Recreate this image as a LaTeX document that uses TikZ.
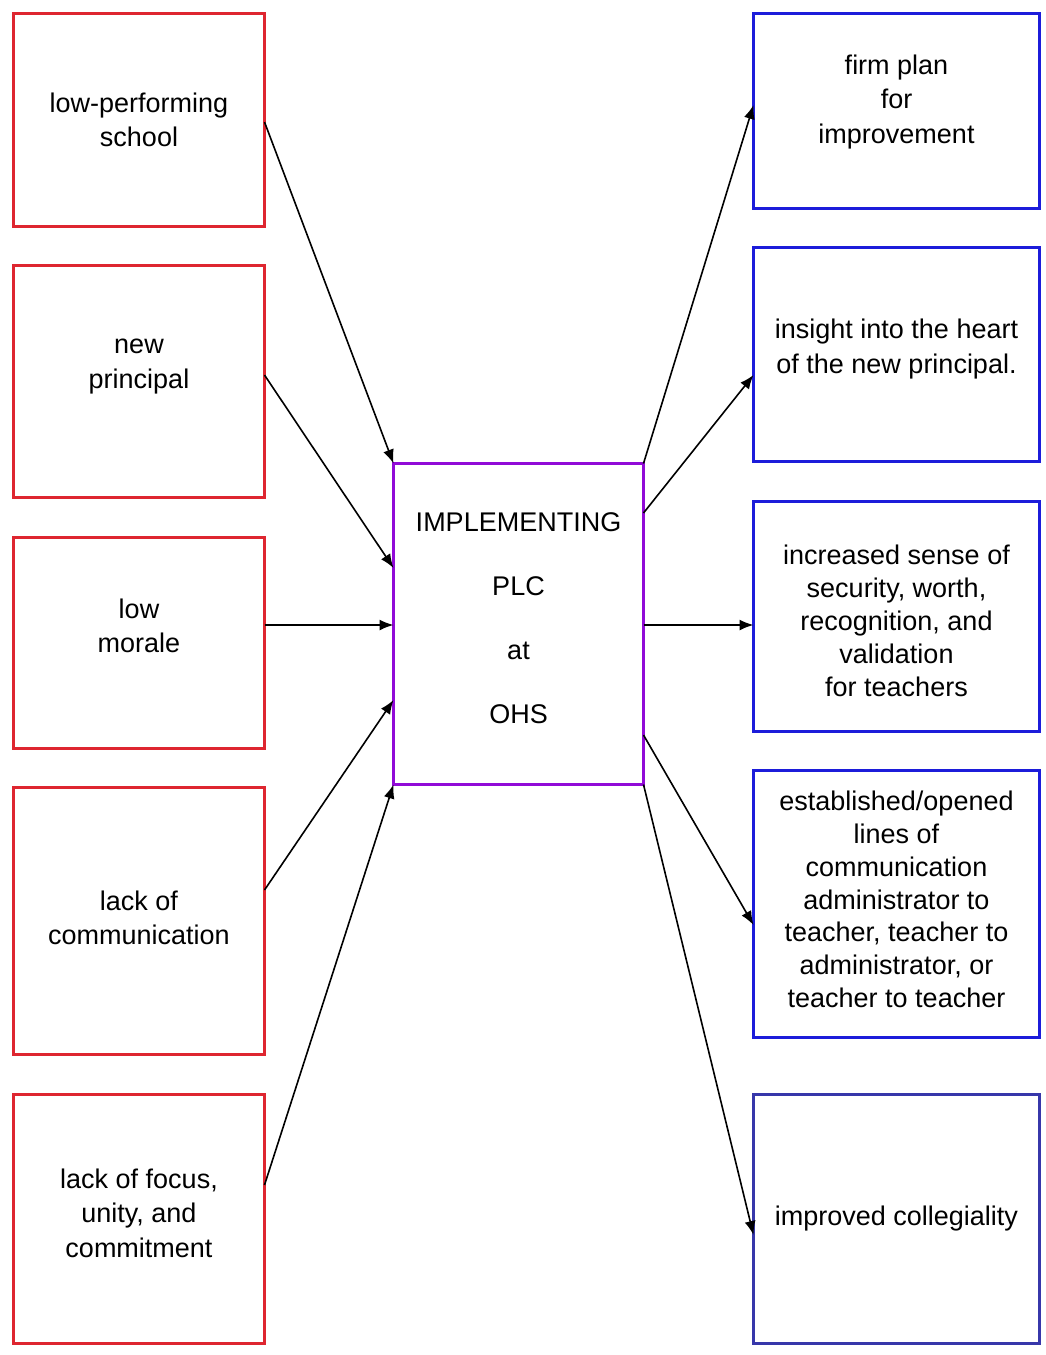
\documentclass[tikz,border=0pt]{standalone}
\usepackage{fontspec}
\setmainfont{Liberation Sans}
\usetikzlibrary{arrows.meta,calc}
\definecolor{boxred}{RGB}{222,38,48}
\definecolor{boxblue}{RGB}{28,28,218}
\definecolor{boxblue2}{RGB}{55,55,170}
\definecolor{boxpurple}{RGB}{145,10,215}
\begin{document}
\begin{tikzpicture}[x=1pt,y=-1pt,
  box/.style={draw, line width=3pt, rectangle, inner sep=0pt, outer sep=0pt, fill=white},
  lbox/.style={box, draw=boxred, minimum width=251pt},
  rbox/.style={box, draw=boxblue, minimum width=286pt},
  cbox/.style={box, draw=boxpurple, line width=3.8pt, minimum width=250pt, minimum height=321pt},
  txt/.style={align=center, inner sep=0pt, font=\fontsize{27}{34.5}\selectfont},
  ctxt/.style={align=center, inner sep=0pt, font=\fontsize{27}{64}\selectfont},
  arr/.style={-{Latex[length=14pt,width=11pt]}, line width=1.6pt, black}]
\useasboundingbox[fill=white] (0,0) rectangle (1045,1355);

% left boxes
\node[lbox, minimum height=213pt] (L1) at (139,120) {};
\node[lbox, minimum height=232pt] (L2) at (139,381.5) {};
\node[lbox, minimum height=211pt] (L3) at (139,643) {};
\node[lbox, minimum height=267pt] (L4) at (139,921) {};
\node[lbox, minimum height=249pt] (L5) at (139,1219) {};

% centre box
\node[cbox] (C) at (518.5,624) {};

% right boxes
\node[rbox, minimum height=195pt] (R1) at (896.5,111) {};
\node[rbox, minimum height=214pt] (R2) at (896.5,354.5) {};
\node[rbox, minimum height=230pt] (R3) at (896.5,616.5) {};
\node[rbox, minimum height=267pt] (R4) at (896.5,904) {};
\node[rbox, draw=boxblue2, minimum height=249pt] (R5) at (896.5,1219) {};

% texts
\node[txt] (tL1) at ([yshift=0pt]L1.center) {low-performing\\school};
\node[txt] (tL2) at ([yshift=15pt]L2.center) {new\\principal};
\node[txt] (tL3) at ([yshift=17pt]L3.center) {low\\morale};
\node[txt] (tL4) at ([yshift=3pt]L4.center) {lack of\\communication};
\node[txt] (tL5) at ([yshift=6pt]L5.center) {lack of focus,\\unity, and\\commitment};

\node[ctxt] (tC) at ([yshift=6pt]C.center) {IMPLEMENTING\\PLC\\at\\OHS};

\node[txt] (tR1) at ([yshift=9pt]R1.center) {firm plan\\for\\improvement};
\node[txt] (tR2) at ([yshift=5.5pt]R2.center) {insight into the heart\\of the new principal.};
\node[txt, font=\fontsize{27}{33}\selectfont] (tR3) at ([yshift=-4.5pt]R3.center) {increased sense of\\security, worth,\\recognition, and\\validation\\for teachers};
\node[txt, font=\fontsize{27}{32.8}\selectfont] (tR4) at ([yshift=4.5pt]R4.center) {established/opened\\lines of\\communication\\administrator to\\teacher, teacher to\\administrator, or\\teacher to teacher};
\node[txt] (tR5) at (R5.center) {improved collegiality};

% arrows in
\draw[arr] ([yshift=-2pt]L1.east) -- (C.north west);
\draw[arr] ([yshift=6.5pt]L2.east) -- ([yshift=56pt]C.west);
\draw[arr] ([yshift=18pt]L3.east) -- ([yshift=18pt]L3.east -| C.west);
\draw[arr] ([yshift=31pt]L4.east) -- ([yshift=-76pt]C.west);
\draw[arr] ([yshift=34pt]L5.east) -- (C.south west);

% arrows out
\draw[arr] (C.north east) -- ([yshift=6pt]R1.west);
\draw[arr] ([yshift=111pt]C.east) -- ([yshift=-20.5pt]R2.west);
\draw[arr] ([yshift=-1pt]C.east) -- ([yshift=-1pt]C.east -| R3.west);
\draw[arr] ([yshift=-111pt]C.east) -- ([yshift=-21pt]R4.west);
\draw[arr] (C.south east) -- ([yshift=-16pt]R5.west);
\end{tikzpicture}
\end{document}
